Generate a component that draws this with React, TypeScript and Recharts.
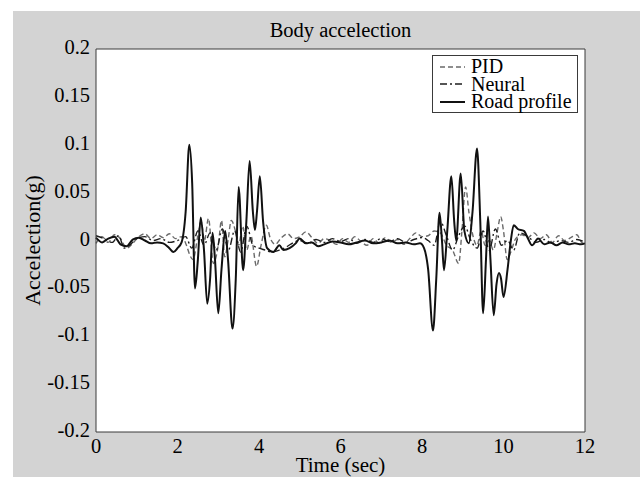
import { LineChart, Line, XAxis, YAxis, CartesianGrid, Legend } from 'recharts';

// [time (s), acceleration (g)]
const pid: [number, number][] = [
    [0, -0.003], [0.15, 0.004], [0.3, -0.002], [0.45, 0.006], [0.6, 0.002], [0.75, -0.008],
    [0.9, -0.003], [1.05, 0.004], [1.2, 0.007], [1.35, 0.002], [1.5, 0.006], [1.65, 0.003],
    [1.8, 0.007], [1.95, 0.002], [2.1, 0.004], [2.22, -0.005], [2.3, -0.015], [2.38, -0.02],
    [2.5, 0.005], [2.58, 0.02], [2.66, 0.0], [2.76, 0.023], [2.88, -0.024], [3.0, -0.005],
    [3.08, 0.021], [3.16, -0.017], [3.24, 0.0], [3.32, 0.021], [3.42, 0.01], [3.5, -0.005],
    [3.6, 0.015], [3.7, -0.01], [3.8, 0.005], [3.94, -0.027], [4.05, -0.005], [4.18, 0.016],
    [4.28, 0.002], [4.4, -0.004], [4.55, 0.003], [4.7, 0.007], [4.85, 0.002], [5.0, 0.004],
    [5.15, 0.009], [5.3, 0.003], [5.45, -0.003], [5.6, 0.002], [5.75, 0.0], [5.9, -0.004],
    [6.05, 0.002], [6.2, -0.002], [6.35, 0.004], [6.5, -0.001], [6.65, -0.005], [6.8, 0.002],
    [6.95, -0.003], [7.1, 0.003], [7.25, -0.002], [7.4, 0.001], [7.55, -0.004], [7.7, 0.002],
    [7.85, 0.008], [8.0, 0.004], [8.15, 0.005], [8.3, 0.01], [8.45, 0.008], [8.6, -0.005],
    [8.75, -0.01], [8.9, -0.024], [8.98, 0.01], [9.07, 0.056], [9.15, 0.03], [9.25, 0.005],
    [9.35, -0.005], [9.45, 0.01], [9.55, -0.005], [9.65, 0.0], [9.75, -0.01], [9.85, 0.01],
    [9.93, 0.025], [10.0, 0.01], [10.09, -0.02], [10.18, -0.012], [10.3, 0.002], [10.45, 0.006],
    [10.6, 0.003], [10.75, 0.008], [10.9, 0.002], [11.05, 0.006], [11.2, -0.002], [11.35, 0.005],
    [11.5, 0.0], [11.65, 0.003], [11.8, 0.006], [11.9, -0.001], [12, -0.004],
];

const neural: [number, number][] = [
    [0, 0.005], [0.2, 0.002], [0.4, -0.002], [0.55, 0.005], [0.7, -0.008], [0.85, -0.004],
    [1.0, 0.002], [1.2, 0.004], [1.4, 0.0], [1.6, 0.002], [1.8, -0.002], [2.0, 0.0],
    [2.2, 0.004], [2.35, -0.008], [2.5, 0.01], [2.65, -0.005], [2.8, 0.008], [2.95, -0.01],
    [3.1, 0.012], [3.25, -0.01], [3.4, 0.01], [3.55, -0.012], [3.7, 0.015], [3.85, -0.005],
    [4.0, -0.008], [4.15, -0.01], [4.3, -0.012], [4.5, -0.01], [4.7, -0.006], [4.85, -0.002],
    [5.0, 0.0], [5.2, -0.003], [5.4, 0.001], [5.6, -0.002], [5.8, 0.002], [6.0, -0.001],
    [6.2, 0.002], [6.4, -0.003], [6.6, 0.001], [6.8, -0.002], [7.0, 0.002], [7.2, -0.001],
    [7.4, 0.002], [7.6, -0.002], [7.8, 0.001], [8.0, 0.003], [8.15, 0.0], [8.3, -0.005],
    [8.45, 0.02], [8.6, 0.005], [8.75, -0.01], [8.9, 0.005], [9.05, 0.015], [9.2, 0.0],
    [9.35, -0.008], [9.5, 0.01], [9.65, -0.01], [9.8, 0.012], [9.95, -0.005], [10.1, 0.0],
    [10.25, -0.01], [10.4, 0.008], [10.6, 0.004], [10.8, -0.002], [11.0, 0.001], [11.2, -0.003],
    [11.4, 0.0], [11.6, -0.002], [11.8, 0.001], [12, -0.002],
];

const roadProfile: [number, number][] = [
    [0, 0.003], [0.15, -0.002], [0.3, 0.002], [0.45, 0.004], [0.6, -0.004], [0.75, -0.006],
    [0.9, 0.001], [1.05, 0.003], [1.2, 0.0], [1.35, -0.003], [1.5, -0.002], [1.65, -0.003],
    [1.8, -0.008], [1.9, -0.012], [2.0, -0.008], [2.1, -0.002], [2.2, 0.03], [2.29, 0.1],
    [2.36, 0.06], [2.43, -0.05], [2.5, -0.02], [2.57, 0.024], [2.65, -0.01], [2.73, -0.066],
    [2.8, -0.04], [2.86, 0.008], [2.92, -0.02], [3.0, -0.076], [3.08, -0.03], [3.17, 0.01],
    [3.24, -0.02], [3.35, -0.092], [3.43, -0.04], [3.5, 0.056], [3.61, -0.031], [3.69, 0.02],
    [3.77, 0.083], [3.85, 0.03], [3.9, 0.011], [3.95, 0.03], [4.02, 0.067], [4.1, 0.02],
    [4.2, -0.008], [4.35, -0.012], [4.5, -0.005], [4.6, -0.01], [4.75, -0.008], [4.9, -0.003],
    [5.0, 0.002], [5.15, -0.003], [5.3, -0.002], [5.45, -0.006], [5.6, -0.004], [5.8, -0.001],
    [6.0, -0.002], [6.2, -0.004], [6.4, -0.002], [6.6, 0.0], [6.8, -0.003], [7.0, -0.002],
    [7.2, 0.0], [7.4, -0.003], [7.6, -0.002], [7.8, -0.004], [7.95, -0.003], [8.05, -0.008],
    [8.15, -0.03], [8.27, -0.094], [8.35, -0.04], [8.43, 0.029], [8.49, 0.0], [8.54, -0.031],
    [8.62, 0.01], [8.72, 0.067], [8.79, 0.02], [8.84, 0.0], [8.95, 0.07], [9.04, 0.01],
    [9.15, -0.003], [9.24, 0.03], [9.35, 0.096], [9.43, 0.02], [9.5, -0.076], [9.57, -0.02],
    [9.62, 0.025], [9.68, -0.02], [9.76, -0.078], [9.83, -0.045], [9.89, -0.034], [9.94, -0.04],
    [10.0, -0.059], [10.1, -0.03], [10.18, 0.0], [10.25, 0.016], [10.35, 0.012], [10.5, 0.01],
    [10.6, 0.002], [10.7, -0.005], [10.85, 0.002], [11.0, -0.004], [11.15, -0.002], [11.3, -0.005],
    [11.45, -0.002], [11.6, -0.004], [11.75, -0.003], [11.9, -0.004], [12, -0.003],
];

const xTicks = [0, 2, 4, 6, 8, 10, 12];
const yTicks = [-0.2, -0.15, -0.1, -0.05, 0, 0.05, 0.1, 0.15, 0.2];

const series = [
    { name: 'PID', points: pid, color: '#6a6a6a', width: 1.4, dash: '5 3' },
    { name: 'Neural', points: neural, color: '#1e1e1e', width: 1.4, dash: '7 3 2 3' },
    { name: 'Road profile', points: roadProfile, color: '#111', width: 2, dash: undefined },
];

const font = '"Liberation Serif", "Times New Roman", serif';
const axisColor = '#3a3a3a';
const blankTick = () => <g />;

const XTick = ({ x, y, payload }: any) => (
    <text x={x} y={y} dy={15} textAnchor="middle" fill="#000" style={{ fontSize: 20.5, fontFamily: font }}>
        {String(payload.value)}
    </text>
);

const YTick = ({ x, y, payload }: any) => (
    <text x={x} y={y} dy={5} textAnchor="end" fill="#000" style={{ fontSize: 20.5, fontFamily: font }}>
        {String(payload.value)}
    </text>
);

function LegendBox() {
    return (
        <div style={{ border: `1px solid ${axisColor}`, background: '#fff', boxSizing: 'border-box', width: 146, height: 58, padding: '2px 0 0 7px', fontFamily: font, color: '#000' }}>
            {series.map((s) => (
                <div key={s.name} style={{ display: 'flex', alignItems: 'center', height: 17.5, fontSize: 20, lineHeight: '17.5px', whiteSpace: 'nowrap' }}>
                    <svg width={25} height={6} style={{ display: 'block', flex: 'none' }}>
                        <line x1={0} y1={3} x2={25} y2={3} stroke={s.color} strokeWidth={s.width} strokeDasharray={s.dash} />
                    </svg>
                    <span style={{ marginLeft: 6 }}>{s.name}</span>
                </div>
            ))}
        </div>
    );
}

export default function App() {
    return (
        <div style={{ position: 'absolute', left: 0, top: 0, width: 640, height: 477, background: '#fff', fontFamily: font }}>
            <div style={{ position: 'absolute', left: 13, top: 11, right: 0, bottom: 0, background: '#d3d3d3' }} />
            <div style={{ position: 'absolute', left: 96, width: 489, top: 18, textAlign: 'center', fontSize: 20.5, color: '#000', lineHeight: '24px' }}>
                Body accelection
            </div>
            <div style={{ position: 'absolute', left: 0, top: 0 }}>
                <LineChart width={640} height={477} margin={{ top: 49, right: 55, bottom: 0, left: 0 }} style={{ fontFamily: font }}>
                    <CartesianGrid horizontal={false} vertical={false} fill="#fff" />
                    <XAxis
                        dataKey="t"
                        type="number"
                        domain={[0, 12]}
                        ticks={xTicks}
                        height={45}
                        stroke={axisColor}
                        tickLine={false}
                        tickSize={0}
                        tickMargin={6}
                        tick={XTick}
                        label={{ value: 'Time (sec)', position: 'insideBottom', offset: 5, fill: '#000', fontSize: 21, fontFamily: font }}
                    />
                    <XAxis xAxisId="inBottom" orientation="bottom" mirror type="number" domain={[0, 12]} ticks={xTicks}
                        axisLine={false} tickLine={{ stroke: '#666' }} tickSize={5} tick={blankTick} />
                    <XAxis xAxisId="inTop" orientation="top" mirror type="number" domain={[0, 12]} ticks={xTicks}
                        stroke={axisColor} tickLine={{ stroke: '#666' }} tickSize={5} tick={blankTick} />
                    <YAxis
                        type="number"
                        domain={[-0.2, 0.2]}
                        ticks={yTicks}
                        width={96}
                        stroke={axisColor}
                        tickLine={false}
                        tickSize={0}
                        tickMargin={6}
                        tick={YTick}
                        label={{ value: 'Accelection(g)', angle: -90, position: 'center', dx: -16, fill: '#000', fontSize: 22, fontFamily: font }}
                    />
                    <YAxis yAxisId="inLeft" orientation="left" mirror type="number" domain={[-0.2, 0.2]} ticks={yTicks}
                        axisLine={false} tickLine={{ stroke: '#666' }} tickSize={5} tick={blankTick} />
                    <YAxis yAxisId="inRight" orientation="right" mirror type="number" domain={[-0.2, 0.2]} ticks={yTicks}
                        stroke={axisColor} tickLine={{ stroke: '#666' }} tickSize={5} tick={blankTick} />
                    <Legend
                        layout="horizontal"
                        align="center"
                        verticalAlign="middle"
                        width={146}
                        wrapperStyle={{ left: 432, top: 55, width: 146, height: 58 }}
                        content={() => <LegendBox />}
                    />
                    {series.map((s) => (
                        <Line
                            key={s.name}
                            name={s.name}
                            data={s.points.map(([t, v]) => ({ t, v }))}
                            dataKey="v"
                            type="monotone"
                            stroke={s.color}
                            strokeWidth={s.width}
                            strokeDasharray={s.dash}
                            dot={false}
                            activeDot={false}
                            isAnimationActive={false}
                        />
                    ))}
                </LineChart>
            </div>
        </div>
    );
}
